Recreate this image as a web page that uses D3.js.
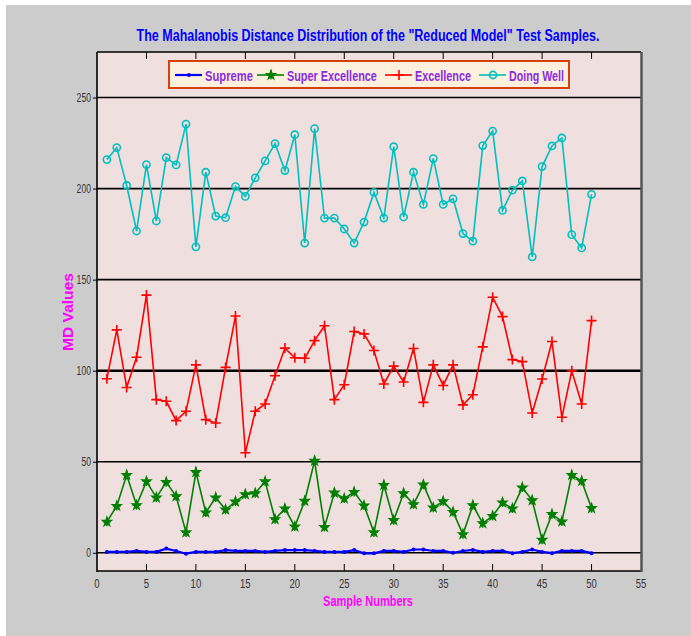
<!DOCTYPE html>
<html><head><meta charset="utf-8">
<script src="https://cdn.jsdelivr.net/npm/d3@7"></script>
<style>body{margin:0;padding:0;background:#fff;} svg{display:block;}</style>
</head><body>
<script>
const samples = d3.range(1, 51);
const supreme = [0.5,0.5,0.5,1,0.5,0.5,2.3,1,-0.5,0.5,0.5,0.5,1.5,1,1,1,0.5,1,1.5,1.5,1.5,1,0.5,0.5,0.5,1.5,-0.3,-0.3,1,1,0.5,1.8,1.8,1,1,0,1,1.6,0.5,1,1,-0.2,0.5,1.8,0.5,-0.2,1,1,1,-0.2];
const superExcellence = [17,25.7,42.7,26.1,39.2,30.3,38.8,31,11.2,44.3,22.1,30.3,23.7,28.1,32.1,32.7,39.2,18.4,24.3,14.4,28.5,50.5,14.1,33,29.8,33.4,25.9,11.2,37.2,17.9,32.7,26.6,37.4,24.8,28.3,22.4,10.2,26.1,16.2,20.2,27.6,24.3,35.8,28.8,7.1,21.2,17.2,42.7,39.4,24.5];
const excellence = [95.6,122.4,90.8,107.4,141.5,84.1,83.2,72.6,77.7,103.2,73.1,71.3,101.8,130,54.9,77.7,81.7,97.2,112.4,107.1,106.8,116.5,124.7,84.1,92.3,121.5,120.2,111.1,92.7,102.5,93.8,112.2,82.6,103.2,91.9,103.2,81.2,86.8,113.1,140.3,129.7,106.1,105,76.8,95.4,116,74.4,99.9,81.7,127.5];
const doingWell = [215.9,222.5,201.7,176.7,213.2,182.2,217,213,235.4,168,209,184.9,184,201.1,195.7,205.9,215.2,224.7,209.9,229.6,170.1,232.9,183.8,183.8,177.8,170.1,181.6,197.9,183.8,223,184.4,209,191.3,216.5,191.3,194.4,175.3,171.1,223.6,231.6,188,199.1,204.2,162.5,212.1,223.4,227.8,174.7,167.4,196.8];
const seriesNames = ["Supreme","Super Excellence","Excellence","Doing Well"];
const xTicks = d3.range(0, 56, 5);
const yTicks = [0,50,100,150,200,250];
const gridValues = [0,50,100,150,200,250];

const W = 691, H = 636;
const L = 97, R = 641, T = 52, B = 571;
const x = d3.scaleLinear().domain([0,55]).range([L,R]);
const y = d3.scaleLinear().domain([-10,275]).range([B,T]);

const svg = d3.select("body").append("svg").attr("width",W).attr("height",H);
svg.append("rect").attr("width",W).attr("height",H).attr("fill","#ffffff");
svg.append("rect").attr("x",6).attr("y",5).attr("width",W-6).attr("height",H-5).attr("fill","#cccccc");

const font = "'Liberation Sans',Arial,sans-serif";
// condensed text: draw at natural size inside a group scaled horizontally to the target width
function narrowText(parent, px, py, str, target, anchor, rotate, style){
  const g = parent.append("g").attr("transform",`translate(${px},${py})${rotate?` rotate(${rotate})`:""}`);
  const inner = g.append("g");
  const t = inner.append("text").attr("x",0).attr("y",0).attr("text-anchor",anchor).text(str);
  Object.entries(style).forEach(([k,v])=>{ if(k==="fill") t.attr("fill",v); else t.style(k,v); });
  const nat = t.node().getComputedTextLength();
  inner.attr("transform",`scale(${target/nat},1)`);
  return t;
}

// plot background
svg.append("rect").attr("x",L).attr("y",T).attr("width",R-L).attr("height",B-T).attr("fill","#f0dfdf");

// grid lines
svg.append("g").selectAll("line").data(gridValues).join("line")
  .attr("x1",L).attr("x2",R).attr("y1",d=>y(d)).attr("y2",d=>y(d))
  .attr("stroke","#000").attr("stroke-width",d=>d===100?2.6:1.6);

// y axis ticks + labels
const yAxis = d3.axisLeft(y).tickValues(yTicks).tickSize(4).tickFormat("");
const gy = svg.append("g").attr("transform",`translate(${L},0)`).call(yAxis);
gy.select(".domain").remove();
gy.selectAll("line").attr("stroke","#000");
const tickStyle = {fill:"#333","font-family":font,"font-size":"12px"};
yTicks.forEach(d=>narrowText(svg, L-6, y(d)+4.3, String(d), String(d).length*4.8, "end", 0, tickStyle));

// x ticks
svg.append("g").selectAll("line").data(xTicks.filter(d=>d>0&&d<55)).join("line")
  .attr("x1",d=>x(d)).attr("x2",d=>x(d)).attr("y1",B).attr("y2",B-7).attr("stroke","#000").attr("stroke-width",1);
svg.append("g").selectAll("line").data(xTicks.filter(d=>d>0&&d<55)).join("line")
  .attr("x1",d=>x(d)).attr("x2",d=>x(d)).attr("y1",T).attr("y2",T+7).attr("stroke","#000").attr("stroke-width",1);
xTicks.forEach(d=>narrowText(svg, x(d), B+17, String(d), String(d).length*5.3, "middle", 0, tickStyle));

// frame
svg.append("line").attr("x1",L).attr("x2",L).attr("y1",T).attr("y2",B+1).attr("stroke","#000").attr("stroke-width",1.6);
svg.append("line").attr("x1",L).attr("x2",R).attr("y1",B).attr("y2",B).attr("stroke","#000").attr("stroke-width",1.6);
svg.append("line").attr("x1",L).attr("x2",R).attr("y1",T).attr("y2",T).attr("stroke","#000").attr("stroke-width",1.6);
svg.append("line").attr("x1",R+0.5).attr("x2",R+0.5).attr("y1",T).attr("y2",B+1).attr("stroke","#555").attr("stroke-width",2.5);

// series
const series = [
  {name:seriesNames[0], data:supreme, color:"#0000ff", marker:"dot"},
  {name:seriesNames[1], data:superExcellence, color:"#007f00", marker:"star"},
  {name:seriesNames[2], data:excellence, color:"#ff0000", marker:"plus"},
  {name:seriesNames[3], data:doingWell, color:"#00bfbf", marker:"circle"}
];
const line = d3.line().x((d,i)=>x(samples[i])).y(d=>y(d));
const starPath = d3.symbol().type(d3.symbolStar).size(26)();
const plusPath = "M-5,0H5M0,-5V5";
function drawMarker(g, mx, my, s){
  if(s.marker==="dot"){
    g.append("circle").attr("cx",mx).attr("cy",my).attr("r",2).attr("fill",s.color);
  } else if(s.marker==="star"){
    g.append("path").attr("d",starPath).attr("transform",`translate(${mx},${my})`).attr("fill",s.color).attr("stroke",s.color).attr("stroke-width",1.2);
    g.append("path").attr("d","M-4,0H4M0,-4.5V4.5").attr("transform",`translate(${mx},${my})`).attr("stroke",s.color).attr("stroke-width",1.4);
  } else if(s.marker==="plus"){
    g.append("path").attr("d",plusPath).attr("transform",`translate(${mx},${my})`).attr("stroke",s.color).attr("stroke-width",1.6).attr("fill","none");
  } else {
    g.append("circle").attr("cx",mx).attr("cy",my).attr("r",3.6).attr("fill","none").attr("stroke",s.color).attr("stroke-width",1.6);
  }
}
series.forEach(s=>{
  const g = svg.append("g");
  g.append("path").datum(s.data).attr("d",line).attr("fill","none").attr("stroke",s.color).attr("stroke-width",s.marker==="dot"?2.2:1.6);
  s.data.forEach((v,i)=>drawMarker(g, x(samples[i]), y(v), s));
});

// legend
const lg = svg.append("g");
lg.append("rect").attr("x",169).attr("y",61).attr("width",400).attr("height",27)
  .attr("fill","#fdf0dc").attr("stroke","#d8400a").attr("stroke-width",2);
const legX = [175, 257, 385, 479];
const legW = [48, 90, 56, 55];
const legStyle = {fill:"#8a2be2","font-family":font,"font-size":"15px","font-weight":"bold"};
series.forEach((s,i)=>{
  const lx = legX[i], ly = 75;
  lg.append("line").attr("x1",lx).attr("x2",lx+27).attr("y1",ly).attr("y2",ly).attr("stroke",s.color).attr("stroke-width",s.marker==="dot"?2.2:1.6);
  drawMarker(lg, lx+14, ly, s);
  narrowText(lg, lx+30, ly+5.5, s.name, legW[i], "start", 0, legStyle);
});

// title and labels
narrowText(svg, 368, 41, 'The Mahalanobis Distance Distribution of the "Reduced Model" Test Samples.', 463, "middle", 0,
  {fill:"#0000ff","font-family":font,"font-size":"16px","font-weight":"bold"});
narrowText(svg, 368, 606, "Sample Numbers", 90, "middle", 0,
  {fill:"#ff00ff","font-family":font,"font-size":"15px","font-weight":"bold"});
narrowText(svg, 73, 312, "MD Values", 78, "middle", -90,
  {fill:"#ff00ff","font-family":font,"font-size":"14px","font-weight":"bold"});
</script>
</body></html>
